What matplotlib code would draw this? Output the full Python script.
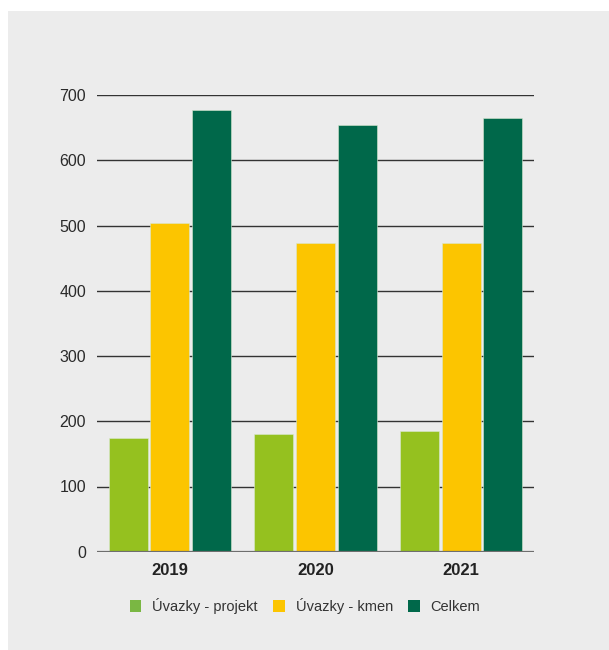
import matplotlib
matplotlib.use("Agg")
import matplotlib.pyplot as plt
import numpy as np
from matplotlib.patches import Rectangle, Patch

years = ["2019", "2020", "2021"]
series_names = ["Úvazky - projekt", "Úvazky - kmen", "Celkem"]
projekt = [174, 180, 185]
kmen = [504, 473, 473]
celkem = [678, 654, 665]
yticks = [0, 100, 200, 300, 400, 500, 600, 700]

bar_colors = ["#95C11F", "#FCC500", "#00684A"]
legend_colors = ["#7AB743", "#FCC500", "#00684A"]
panel_color = "#ECECEC"

plt.rcParams["font.family"] = ["Liberation Sans", "DejaVu Sans"]

fig = plt.figure(figsize=(6.09, 6.5), dpi=100)
fig.patch.set_facecolor("white")
fig.patches.append(Rectangle((8 / 609, 0), 1 - 8 / 609, 1 - 11 / 650,
                             transform=fig.transFigure, facecolor=panel_color,
                             edgecolor="none", zorder=-10))

ax = fig.add_axes([97 / 609, 1 - 551.7 / 650, 437 / 609, (551.7 - 95.3) / 650])
ax.set_facecolor(panel_color)
ax.patch.set_alpha(0)

x = np.arange(len(years))
step = 0.2857
width = 0.268
for i, (vals, col) in enumerate(zip([projekt, kmen, celkem], bar_colors)):
    ax.bar(x + (i - 1) * step, vals, width=width, color=col, zorder=3,
           edgecolor="#D8E8D0", linewidth=0.4)

ax.set_xlim(-0.5, 2.5)
ax.set_ylim(0, 700)
ax.set_yticks(yticks)
ax.set_yticklabels([str(v) for v in yticks], fontsize=11.5, color="#2A2A2A")
ax.set_xticks(x)
ax.set_xticklabels(years, fontsize=12, fontweight="bold", color="#222222")
ax.tick_params(axis="y", length=0, pad=8)
ax.tick_params(axis="x", length=0, pad=8)

for v in yticks[1:]:
    ax.axhline(v, color="#333333", linewidth=1.0, zorder=1)
ax.axhline(0, color="#6E6E6E", linewidth=1.6, zorder=4)

for s in ax.spines.values():
    s.set_visible(False)

handles = [Patch(facecolor=c, edgecolor="none") for c in legend_colors]
fig.legend(handles, series_names, loc="center", bbox_to_anchor=(305 / 609, 1 - 606 / 650),
           ncol=3, frameon=False, fontsize=10.5, handlelength=0.8, handleheight=0.8,
           handletextpad=0.75, columnspacing=1.05, labelcolor="#333333")

fig.savefig("out.png", dpi=100, facecolor=fig.get_facecolor())
